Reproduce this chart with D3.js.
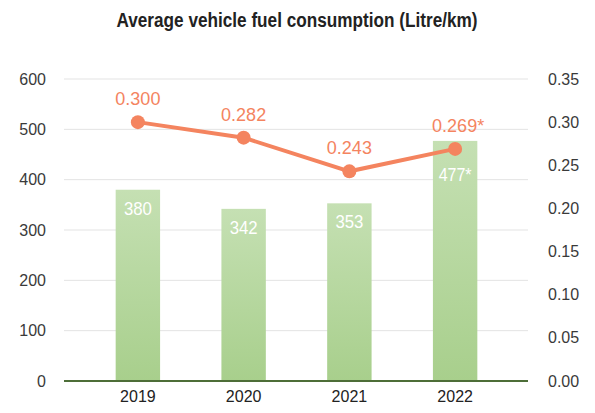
<!DOCTYPE html>
<html>
<head>
<meta charset="utf-8">
<script src="https://cdn.jsdelivr.net/npm/d3@7"></script>
<style>
  body { margin: 0; background: #fff; }
  svg { display: block; }
</style>
</head>
<body>
<div id="chart"></div>
<script>
// chart data
const years = ['2019', '2020', '2021', '2022'];
const vehicles = [380, 342, 353, 477];
const vehicleLabels = ['380', '342', '353', '477*'];
const fuel = [0.300, 0.282, 0.243, 0.269];
const fuelLabels = ['0.300', '0.282', '0.243', '0.269*'];
const leftTicks = [0, 100, 200, 300, 400, 500, 600];
const rightTicks = [0, 0.05, 0.10, 0.15, 0.20, 0.25, 0.30, 0.35];

const width = 595, height = 413;
const plotLeft = 64, plotRight = 528, plotTop = 79, plotBottom = 381;

const svg = d3.select('#chart')
  .append('svg')
  .attr('width', width)
  .attr('height', height);

// scales
const x = d3.scaleBand()
  .domain(years)
  .range([85, 508])
  .paddingInner(0.58)
  .paddingOuter(0.29);

const yLeft = d3.scaleLinear().domain([0, 600]).range([plotBottom, plotTop]);
const yRight = d3.scaleLinear().domain([0, 0.35]).range([plotBottom, plotTop]);
const cx = i => x(years[i]) + x.bandwidth() / 2;

// bar gradient
const grad = svg.append('defs')
  .append('linearGradient')
  .attr('id', 'barGradient')
  .attr('x1', '0%').attr('y1', '0%')
  .attr('x2', '0%').attr('y2', '100%');
grad.append('stop').attr('offset', '0%').attr('stop-color', '#c5e0b3');
grad.append('stop').attr('offset', '100%').attr('stop-color', '#a8cf8c');

// title (condensed look via textLength)
svg.append('text')
  .attr('x', 297)
  .attr('y', 27)
  .attr('text-anchor', 'middle')
  .attr('textLength', 361)
  .attr('lengthAdjust', 'spacingAndGlyphs')
  .style('font-family', '"Liberation Sans", Arial, sans-serif')
  .style('font-size', '20px')
  .style('font-weight', '700')
  .style('fill', '#222')
  .text('Average vehicle fuel consumption (Litre/km)');

// gridlines
svg.append('g')
  .selectAll('line')
  .data(leftTicks.filter(d => d > 0))
  .enter()
  .append('line')
  .attr('x1', plotLeft)
  .attr('x2', plotRight)
  .attr('y1', d => yLeft(d))
  .attr('y2', d => yLeft(d))
  .attr('stroke', '#e3e3e3')
  .attr('stroke-width', 1);

// left axis
const leftAxis = svg.append('g')
  .attr('transform', `translate(${plotLeft - 18},0)`)
  .call(d3.axisLeft(yLeft).tickValues(leftTicks).tickSize(0).tickPadding(0));
leftAxis.selectAll('text')
  .style('font-family', '"Liberation Sans", Arial, sans-serif')
  .style('font-size', '16px')
  .style('fill', '#3a3a3a');

// right axis
const rightAxis = svg.append('g')
  .attr('transform', `translate(${plotRight + 20},0)`)
  .call(d3.axisRight(yRight).tickValues(rightTicks).tickFormat(d3.format('.2f')).tickSize(0).tickPadding(0));
rightAxis.selectAll('text')
  .style('font-family', '"Liberation Sans", Arial, sans-serif')
  .style('font-size', '16px')
  .style('fill', '#3a3a3a');

// bottom axis labels
const bottomAxis = svg.append('g')
  .attr('transform', `translate(0,${plotBottom + 10})`)
  .call(d3.axisBottom(x).tickSize(0).tickPadding(0));
bottomAxis.selectAll('text')
  .attr('dy', '0.71em')
  .style('font-family', '"Liberation Sans", Arial, sans-serif')
  .style('font-size', '16px')
  .style('fill', '#222');

svg.selectAll('.domain').style('display', 'none');

// bars
svg.append('g')
  .selectAll('rect')
  .data(vehicles)
  .enter()
  .append('rect')
  .attr('x', (d, i) => x(years[i]))
  .attr('y', d => yLeft(d))
  .attr('width', x.bandwidth())
  .attr('height', d => yLeft(0) - yLeft(d))
  .attr('fill', 'url(#barGradient)');

// baseline
svg.append('line')
  .attr('x1', plotLeft)
  .attr('x2', plotRight)
  .attr('y1', yLeft(0))
  .attr('y2', yLeft(0))
  .attr('stroke', '#4d6e38')
  .attr('stroke-width', 2);

// bar value labels, pushed below the line marker when they would collide
svg.append('g')
  .selectAll('text')
  .data(vehicles)
  .enter()
  .append('text')
  .attr('x', (d, i) => cx(i))
  .attr('y', (d, i) => Math.max(yLeft(d) + 25, yRight(fuel[i]) + 32))
  .attr('text-anchor', 'middle')
  .attr('textLength', (d, i) => vehicleLabels[i].length > 3 ? 33 : 28)
  .attr('lengthAdjust', 'spacingAndGlyphs')
  .style('font-family', '"Liberation Sans", Arial, sans-serif')
  .style('font-size', '19px')
  .style('fill', '#fff')
  .text((d, i) => vehicleLabels[i]);

// fuel line
const line = d3.line()
  .x((d, i) => cx(i))
  .y(d => yRight(d));

svg.append('path')
  .datum(fuel)
  .attr('fill', 'none')
  .attr('stroke', '#f4845f')
  .attr('stroke-width', 4)
  .attr('d', line);

svg.append('g')
  .selectAll('circle')
  .data(fuel)
  .enter()
  .append('circle')
  .attr('cx', (d, i) => cx(i))
  .attr('cy', d => yRight(d))
  .attr('r', 7)
  .attr('fill', '#f4845f');

// fuel labels
svg.append('g')
  .selectAll('text')
  .data(fuel)
  .enter()
  .append('text')
  .attr('x', (d, i) => cx(i) + (fuelLabels[i].endsWith('*') ? 3 : 0))
  .attr('y', d => yRight(d) - 17)
  .attr('text-anchor', 'middle')
  .style('font-family', '"Liberation Sans", Arial, sans-serif')
  .style('font-size', '18px')
  .style('fill', '#f4845f')
  .text((d, i) => fuelLabels[i]);
</script>
</body>
</html>
